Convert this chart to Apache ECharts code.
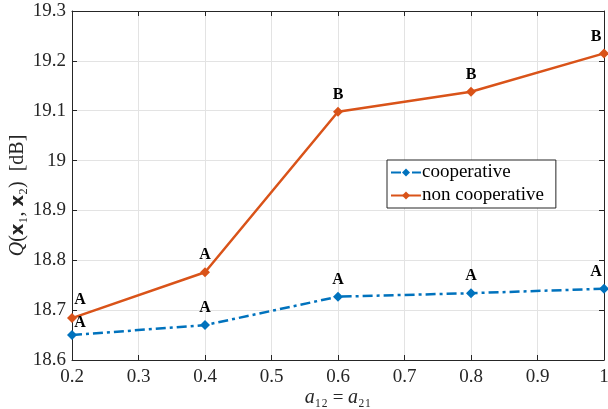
<!DOCTYPE html>
<html>
<head>
<meta charset="utf-8">
<script src="https://cdn.jsdelivr.net/npm/echarts@6/dist/echarts.min.js"></script>
<style>
  html, body { margin: 0; padding: 0; background: #fff; }
  #main { width: 608px; height: 409px; }
</style>
</head>
<body>
<div id="main"></div>
<script>
var xValues = [0.2, 0.4, 0.6, 0.8, 1.0];
var coopValues = [18.650, 18.670, 18.727, 18.734, 18.743];
var nonCoopValues = [18.684, 18.776, 19.098, 19.138, 19.215];
var coopTags = ['A', 'A', 'A', 'A', 'A'];
var nonCoopTags = ['A', 'A', 'B', 'B', 'B'];

var serif = "'Liberation Serif', 'DejaVu Serif', serif";
var axisColor = '#262626';

function buildData(vals, tags, isCoop) {
  return vals.map(function (v, i) {
    var off = [0, 0];
    if (i === 0) off = [8, isCoop ? 5 : -1];
    if (i === vals.length - 1) off = [-8, 0];
    return {
      value: [xValues[i], v],
      label: { show: true, formatter: tags[i], offset: off }
    };
  });
}

var myChart = echarts.init(document.getElementById('main'));

var option = {
  backgroundColor: '#fff',
  animation: false,
  grid: { left: 72, right: 4, top: 11, bottom: 49, containLabel: false, outerBoundsMode: 'none' },
  legend: {
    orient: 'vertical',
    left: 387,
    top: 160,
    itemWidth: 30,
    itemHeight: 10,
    itemGap: 4,
    padding: [3, 12, 3, 3],
    backgroundColor: '#fff',
    borderColor: axisColor,
    borderWidth: 1,
    borderRadius: 0,
    textStyle: { fontFamily: serif, fontSize: 19, color: '#000', padding: [0, 0, 0, -4] },
    data: ['cooperative', 'non cooperative']
  },
  xAxis: [
    {
      type: 'value', min: 0.2, max: 1, interval: 0.1,
      name: '{i|a}₁₂ = {i|a}₂₁',
      nameLocation: 'middle',
      nameMoveOverlap: false,
      nameGap: 28,
      nameTextStyle: {
        fontFamily: serif, fontSize: 19, color: axisColor,
        rich: { i: { fontFamily: serif, fontStyle: 'italic', fontSize: 20, color: axisColor } }
      },
      axisLine: { lineStyle: { color: axisColor } },
      axisTick: { inside: true, length: 5, lineStyle: { color: axisColor } },
      axisLabel: { fontFamily: serif, fontSize: 19, color: axisColor, margin: 8 },
      splitLine: { show: true, lineStyle: { color: '#e3e3e3' } }
    },
    {
      type: 'value', min: 0.2, max: 1, interval: 0.1, position: 'top',
      axisLine: { show: true, lineStyle: { color: axisColor } },
      axisTick: { inside: true, length: 5, lineStyle: { color: axisColor } },
      axisLabel: { show: false },
      splitLine: { show: false }
    }
  ],
  yAxis: [
    {
      type: 'value', min: 18.6, max: 19.3, interval: 0.1,
      name: '{i|Q}({b|x}₁, {b|x}₂)  [dB]',
      nameLocation: 'middle',
      nameMoveOverlap: false,
      nameGap: 44,
      nameTextStyle: {
        fontFamily: serif, fontSize: 20, color: axisColor,
        padding: [0, 20, 0, 0],
        rich: {
          i: { fontFamily: serif, fontStyle: 'italic', fontSize: 20, color: axisColor },
          b: { fontFamily: "'DejaVu Sans', sans-serif", fontWeight: 'bold', fontSize: 18, color: axisColor }
        }
      },
      axisLine: { show: true, lineStyle: { color: axisColor } },
      axisTick: { inside: true, length: 5, lineStyle: { color: axisColor } },
      axisLabel: { fontFamily: serif, fontSize: 19, color: axisColor, margin: 6 },
      splitLine: { show: true, lineStyle: { color: '#e3e3e3' } }
    },
    {
      type: 'value', min: 18.6, max: 19.3, interval: 0.1, position: 'right',
      axisLine: { show: true, lineStyle: { color: axisColor } },
      axisTick: { inside: true, length: 5, lineStyle: { color: axisColor } },
      axisLabel: { show: false },
      splitLine: { show: false }
    }
  ],
  series: [
    {
      name: 'cooperative',
      type: 'line',
      data: buildData(coopValues, coopTags, true),
      symbol: 'diamond',
      symbolSize: 10,
      color: '#0072BD',
      lineStyle: { width: 2.5, type: [10, 4, 3, 4] },
      label: {
        position: 'top', distance: 4,
        fontFamily: serif, fontWeight: 'bold', fontSize: 16, color: '#000'
      }
    },
    {
      name: 'non cooperative',
      type: 'line',
      data: buildData(nonCoopValues, nonCoopTags, false),
      symbol: 'diamond',
      symbolSize: 10,
      color: '#D95319',
      lineStyle: { width: 2.5 },
      label: {
        position: 'top', distance: 4,
        fontFamily: serif, fontWeight: 'bold', fontSize: 16, color: '#000'
      }
    }
  ]
};

myChart.setOption(option);
</script>
</body>
</html>
